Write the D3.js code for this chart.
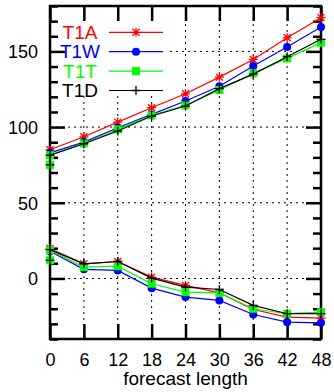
<!DOCTYPE html>
<html>
<head>
<meta charset="utf-8">
<script src="https://cdn.jsdelivr.net/npm/d3@7"></script>
<style>
  body { margin: 0; background: #fff; }
  svg { display: block; font-family: "Liberation Sans", Arial, sans-serif; }
</style>
</head>
<body>
<svg id="chart"></svg>
<script>
// forecast lead times (hours)
var leadHours = [0, 6, 12, 18, 24, 30, 36, 42, 48];
// T1T and T1D carry two values at hour 0
var leadHoursDup = [0, 0, 6, 12, 18, 24, 30, 36, 42, 48];
var xTickLabels = ["0", "6", "12", "18", "24", "30", "36", "42", "48"];
var yTickLabels = [0, 50, 100, 150];

// upper group of curves
var t1aHigh = [85, 93.6, 103.3, 112.8, 122, 133, 144.7, 159, 172.3];
var t1wHigh = [83, 90.1, 99.6, 108.4, 117.2, 127, 140.3, 152.9, 166.1];
var t1tHigh = [75, 81.5, 89.2, 98.5, 107.7, 114.3, 124.5, 135.5, 145.4, 155.8];
var t1dHigh = [75, 81.5, 89, 97.4, 107.3, 113.9, 125.4, 135, 146.5, 158];

// lower group of curves
var t1aLow = [19.8, 9.7, 11.2, 0.9, -4.6, -9.5, -20.5, -25.6, -26.2];
var t1wLow = [18, 6, 5.3, -6.4, -12.3, -14.5, -23.8, -28.9, -29.3];
var t1tLow = [12, 18.7, 7.5, 8.1, -3.5, -9, -9.5, -20, -23.3, -22.3];
var t1dLow = [12, 19, 9.7, 11.2, 0.2, -5.7, -7.3, -17.8, -23.3, -23.3];

var seriesNames = ["T1A", "T1W", "T1T", "T1D"];
var seriesColors = ["#ff0000", "#0000ff", "#00ff00", "#000000"];
var seriesMarkers = ["star", "circle", "square", "plus"];

var chart_width = 334;
var chart_height = 392;
var margin = { top: 6, right: 13, bottom: 53, left: 50 };

var svg = d3.select("#chart")
    .attr("width", chart_width)
    .attr("height", chart_height);

var x = d3.scaleLinear().domain([0, 48]).range([margin.left, chart_width - margin.right]);
var y = d3.scaleLinear().domain([-40, 180]).range([chart_height - margin.bottom, margin.top]);

var x0 = x.range()[0], x1 = x.range()[1];
var y0 = y.range()[0], y1 = y.range()[1];

//grid (dotted)
var grid = svg.append("g")
    .attr("stroke", "#000")
    .attr("stroke-width", 1)
    .attr("stroke-dasharray", "2,4");

grid.selectAll(".vgrid")
    .data(leadHours.slice(1, -1))
    .enter().append("line")
    .attr("x1", d => x(d)).attr("x2", d => x(d))
    .attr("y1", y1).attr("y2", y0);

grid.selectAll(".hgrid")
    .data(yTickLabels)
    .enter().append("line")
    .attr("x1", x0).attr("x2", x1)
    .attr("y1", d => y(d)).attr("y2", d => y(d));

// legend background hides the grid
svg.append("rect")
    .attr("x", x0 + 2).attr("y", 22)
    .attr("width", 114).attr("height", 74)
    .attr("fill", "#fff");

//axes with inward ticks
function styleAxis(g) {
    g.select(".domain").remove();
    g.selectAll(".tick line").attr("stroke-width", 2.5);
    g.selectAll(".tick text")
        .attr("font-size", 18)
        .attr("font-family", "Liberation Sans, Arial, sans-serif")
        .attr("fill", "#000");
}

svg.append("g")
    .attr("transform", "translate(0," + y0 + ")")
    .call(d3.axisBottom(x).tickValues(leadHours).tickSize(-15).tickSizeOuter(0)
        .tickPadding(14).tickFormat((d, i) => xTickLabels[i]))
    .call(styleAxis);

svg.append("g")
    .attr("transform", "translate(0," + y1 + ")")
    .call(d3.axisTop(x).tickValues(leadHours).tickSize(-15).tickSizeOuter(0).tickFormat(""))
    .call(styleAxis);

var minorTicks = d3.range(-40, 181, 10).filter(d => yTickLabels.indexOf(d) < 0);

svg.append("g")
    .attr("transform", "translate(" + x0 + ",0)")
    .call(d3.axisLeft(y).tickValues(yTickLabels).tickSize(-15).tickSizeOuter(0).tickPadding(12))
    .call(styleAxis)
    .selectAll(".tick text").attr("dy", "0.35em");

svg.append("g")
    .attr("transform", "translate(" + x0 + ",0)")
    .call(d3.axisLeft(y).tickValues(minorTicks).tickSize(-8).tickSizeOuter(0).tickFormat(""))
    .call(styleAxis);

svg.append("g")
    .attr("transform", "translate(" + x1 + ",0)")
    .call(d3.axisRight(y).tickValues(yTickLabels).tickSize(-15).tickSizeOuter(0).tickFormat(""))
    .call(styleAxis);

svg.append("g")
    .attr("transform", "translate(" + x1 + ",0)")
    .call(d3.axisRight(y).tickValues(minorTicks).tickSize(-8).tickSizeOuter(0).tickFormat(""))
    .call(styleAxis);

// frame
svg.append("rect")
    .attr("x", x0).attr("y", y1)
    .attr("width", x1 - x0).attr("height", y0 - y1)
    .attr("fill", "none")
    .attr("stroke", "#000")
    .attr("stroke-width", 2.5);

svg.append("text")
    .attr("x", (x0 + x1) / 2)
    .attr("y", 385)
    .attr("text-anchor", "middle")
    .attr("font-size", 19)
    .text("forecast length");

//markers
function drawMarker(g, type, cx, cy, color) {
    var a = 4.5;
    if (type === "star") {
        var p = "M" + (cx - a) + "," + cy + "H" + (cx + a)
            + "M" + cx + "," + (cy - a) + "V" + (cy + a)
            + "M" + (cx - 3.5) + "," + (cy - 3.5) + "L" + (cx + 3.5) + "," + (cy + 3.5)
            + "M" + (cx - 3.5) + "," + (cy + 3.5) + "L" + (cx + 3.5) + "," + (cy - 3.5);
        g.append("path").attr("d", p).attr("stroke", color).attr("stroke-width", 1.3).attr("fill", "none");
    } else if (type === "circle") {
        g.append("circle").attr("cx", cx).attr("cy", cy).attr("r", 4).attr("fill", color);
    } else if (type === "square") {
        g.append("rect").attr("x", cx - 4).attr("y", cy - 4).attr("width", 8).attr("height", 8).attr("fill", color);
    } else {
        var q = "M" + (cx - a) + "," + cy + "H" + (cx + a)
            + "M" + cx + "," + (cy - a) + "V" + (cy + a);
        g.append("path").attr("d", q).attr("stroke", color).attr("stroke-width", 1.3).attr("fill", "none");
    }
}

var line = d3.line()
    .x(d => x(d[0]))
    .y(d => y(d[1]));

var seriesData = [
    [[leadHours, t1aHigh], [leadHours, t1aLow]],
    [[leadHours, t1wHigh], [leadHours, t1wLow]],
    [[leadHoursDup, t1tHigh], [leadHoursDup, t1tLow]],
    [[leadHoursDup, t1dHigh], [leadHoursDup, t1dLow]]
];

seriesData.forEach(function(groups, si) {
    var g = svg.append("g");
    groups.forEach(function(pair) {
        var pts = pair[0].map((h, i) => [h, pair[1][i]]);
        g.append("path")
            .datum(pts)
            .attr("fill", "none")
            .attr("stroke", seriesColors[si])
            .attr("stroke-width", 1.2)
            .attr("d", line);
        pts.forEach(function(p) {
            drawMarker(g, seriesMarkers[si], x(p[0]), y(p[1]), seriesColors[si]);
        });
    });
});

//legend
var legend = svg.append("g");
seriesNames.forEach(function(name, i) {
    var ly = 32.3 + i * 19.4;
    legend.append("text")
        .attr("x", 80)
        .attr("y", ly)
        .attr("dy", "0.35em")
        .attr("text-anchor", "middle")
        .attr("font-size", 19)
        .attr("fill", seriesColors[i])
        .text(name);
    legend.append("line")
        .attr("x1", 109).attr("x2", 163)
        .attr("y1", ly).attr("y2", ly)
        .attr("stroke", seriesColors[i])
        .attr("stroke-width", 1.2);
    drawMarker(legend, seriesMarkers[i], 136, ly, seriesColors[i]);
});
</script>
</body>
</html>
